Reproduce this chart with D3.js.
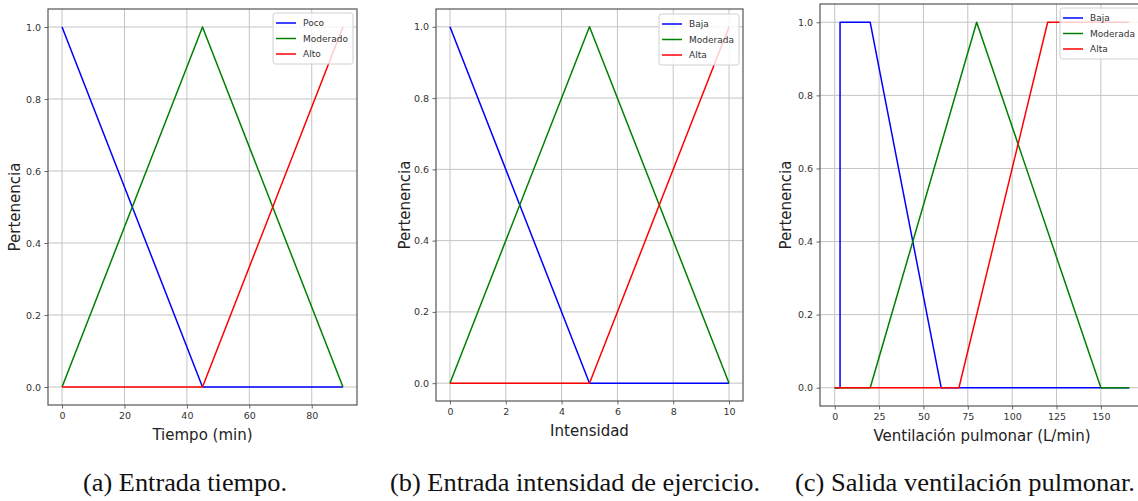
<!DOCTYPE html>
<html>
<head>
<meta charset="utf-8">
<script src="https://cdn.jsdelivr.net/npm/d3@7"></script>
<style>
  html, body { margin: 0; padding: 0; background: #fff; }
  svg { display: block; }
</style>
</head>
<body>
<svg id="chart" width="1138" height="501"></svg>
<script>
// ---------- DATA ----------
const seriesColors = ["#0000ff", "#008000", "#ff0000"];

// (a) Entrada tiempo
const tiempoLabels = ["Poco", "Moderado", "Alto"];
const tiempoX = [0, 45, 90];
const tiempoPoco = [1, 0, 0];
const tiempoModerado = [0, 1, 0];
const tiempoAlto = [0, 0, 1];
const tiempoTicks = [0, 20, 40, 60, 80];

// (b) Entrada intensidad de ejercicio
const intensidadLabels = ["Baja", "Moderada", "Alta"];
const intensidadX = [0, 5, 10];
const intensidadBaja = [1, 0, 0];
const intensidadModerada = [0, 1, 0];
const intensidadAlta = [0, 0, 1];
const intensidadTicks = [0, 2, 4, 6, 8, 10];

// (c) Salida ventilación pulmonar
const ventLabels = ["Baja", "Moderada", "Alta"];
const ventBajaX = [0, 3, 3, 20, 60, 166];
const ventBajaY = [0, 0, 1, 1, 0, 0];
const ventModeradaX = [0, 20, 80, 150, 166];
const ventModeradaY = [0, 0, 1, 0, 0];
const ventAltaX = [0, 70, 120, 166];
const ventAltaY = [0, 0, 1, 1];
const ventTicks = [0, 25, 50, 75, 100, 125, 150];

const yTicks = [0.0, 0.2, 0.4, 0.6, 0.8, 1.0];
const yLabel = "Pertenencia";
const captions = ["(a) Entrada tiempo.", "(b) Entrada intensidad de ejercicio.", "(c) Salida ventilación pulmonar."];

// ---------- LAYOUT ----------
const panels = [
  {
    xLabel: "Tiempo (min)", xDomain: [0, 90], xTicks: tiempoTicks,
    series: [
      {name: tiempoLabels[0], x: tiempoX, y: tiempoPoco},
      {name: tiempoLabels[1], x: tiempoX, y: tiempoModerado},
      {name: tiempoLabels[2], x: tiempoX, y: tiempoAlto}
    ],
    box: {l: 48, r: 357, t: 9, b: 405}, yLabX: 15, xLabY: 440, legendTop: 13,
    caption: captions[0], capX: 185, capW: 204
  },
  {
    xLabel: "Intensidad", xDomain: [0, 10], xTicks: intensidadTicks,
    series: [
      {name: intensidadLabels[0], x: intensidadX, y: intensidadBaja},
      {name: intensidadLabels[1], x: intensidadX, y: intensidadModerada},
      {name: intensidadLabels[2], x: intensidadX, y: intensidadAlta}
    ],
    box: {l: 436, r: 743, t: 9, b: 401}, yLabX: 405, xLabY: 436, legendTop: 14,
    caption: captions[1], capX: 575, capW: 370
  },
  {
    xLabel: "Ventilación pulmonar (L/min)", xDomain: [0, 166], xTicks: ventTicks,
    series: [
      {name: ventLabels[0], x: ventBajaX, y: ventBajaY},
      {name: ventLabels[1], x: ventModeradaX, y: ventModeradaY},
      {name: ventLabels[2], x: ventAltaX, y: ventAltaY}
    ],
    box: {l: 820, r: 1144, t: 4, b: 406}, yLabX: 786, xLabY: 441, legendTop: 8,
    caption: captions[2], capX: 965, capW: 340
  }
];

const svg = d3.select("#chart");
const sans = "'DejaVu Sans', sans-serif";

panels.forEach((p, pi) => {
  const g = svg.append("g");
  const span = p.xDomain[1] - p.xDomain[0];
  const x = d3.scaleLinear()
    .domain([p.xDomain[0] - 0.05 * span, p.xDomain[1] + 0.05 * span])
    .range([p.box.l, p.box.r]);
  const y = d3.scaleLinear().domain([-0.05, 1.05]).range([p.box.b, p.box.t]);

  // grid
  g.append("g").selectAll("line").data(p.xTicks).join("line")
    .attr("x1", d => x(d)).attr("x2", d => x(d))
    .attr("y1", p.box.t).attr("y2", p.box.b)
    .attr("stroke", "#c4c4c4").attr("stroke-width", 1);
  g.append("g").selectAll("line").data(yTicks).join("line")
    .attr("x1", p.box.l).attr("x2", p.box.r)
    .attr("y1", d => y(d)).attr("y2", d => y(d))
    .attr("stroke", "#c4c4c4").attr("stroke-width", 1);

  // series
  const line = d3.line().x(d => x(d[0])).y(d => y(d[1]));
  p.series.forEach((s, si) => {
    g.append("path")
      .datum(s.x.map((v, i) => [v, s.y[i]]))
      .attr("d", line)
      .attr("fill", "none")
      .attr("stroke", seriesColors[si])
      .attr("stroke-width", 1.5)
      .attr("stroke-linejoin", "round");
  });

  // axes
  const xAxis = d3.axisBottom(x).tickValues(p.xTicks).tickSize(3.5).tickPadding(3.5)
    .tickFormat(d3.format("d"));
  const gx = g.append("g").attr("transform", `translate(0,${p.box.b})`).call(xAxis);
  const yAxis = d3.axisLeft(y).tickValues(yTicks).tickSize(3.5).tickPadding(3.5)
    .tickFormat(d3.format(".1f"));
  const gy = g.append("g").attr("transform", `translate(${p.box.l},0)`).call(yAxis);
  [gx, gy].forEach(a => {
    a.select(".domain").remove();
    a.selectAll(".tick line").attr("stroke", "#444").attr("stroke-width", 0.8);
    a.selectAll(".tick text").attr("fill", "#333")
      .style("font-family", sans).style("font-size", "9.5px");
  });

  // frame
  g.append("rect")
    .attr("x", p.box.l).attr("y", p.box.t)
    .attr("width", p.box.r - p.box.l).attr("height", p.box.b - p.box.t)
    .attr("fill", "none").attr("stroke", "#555").attr("stroke-width", 1.2);

  // axis labels
  g.append("text")
    .attr("x", (p.box.l + p.box.r) / 2).attr("y", p.xLabY)
    .attr("text-anchor", "middle")
    .style("font-family", sans).style("font-size", "15px").attr("fill", "#222")
    .text(p.xLabel);
  g.append("text")
    .attr("transform", `translate(${p.yLabX},${(p.box.t + p.box.b) / 2}) rotate(-90)`)
    .attr("text-anchor", "middle").attr("dy", "0.35em")
    .style("font-family", sans).style("font-size", "15px").attr("fill", "#222")
    .text(yLabel);

  // legend
  const lg = g.append("g");
  const rowH = 15.5;
  const texts = p.series.map((s, si) =>
    lg.append("text")
      .attr("y", p.legendTop + 10 + si * rowH).attr("dy", "0.35em")
      .style("font-family", sans).style("font-size", "9px").attr("fill", "#333")
      .text(s.name));
  const tw = d3.max(texts, t => t.node().getComputedTextLength());
  const lw = 3 + 20 + 7 + tw + 5;
  const lx = p.box.r - 4 - lw;
  lg.insert("rect", "text")
    .attr("x", lx).attr("y", p.legendTop)
    .attr("width", lw).attr("height", 3 * rowH + 4.5)
    .attr("rx", 2.5)
    .attr("fill", "#fff").attr("fill-opacity", 0.8)
    .attr("stroke", "#d0d0d0").attr("stroke-width", 1);
  texts.forEach(t => t.attr("x", lx + 30));
  p.series.forEach((s, si) => {
    lg.append("line")
      .attr("x1", lx + 3).attr("x2", lx + 23)
      .attr("y1", p.legendTop + 10 + si * rowH).attr("y2", p.legendTop + 10 + si * rowH)
      .attr("stroke", seriesColors[si]).attr("stroke-width", 1.5);
  });

  // caption
  svg.append("text")
    .attr("x", p.capX - p.capW / 2).attr("y", 491)
    .attr("textLength", p.capW).attr("lengthAdjust", "spacingAndGlyphs")
    .style("font-family", "'Liberation Serif', 'Times New Roman', serif")
    .style("font-size", "25px").attr("fill", "#111")
    .text(p.caption);
});
</script>
</body>
</html>
